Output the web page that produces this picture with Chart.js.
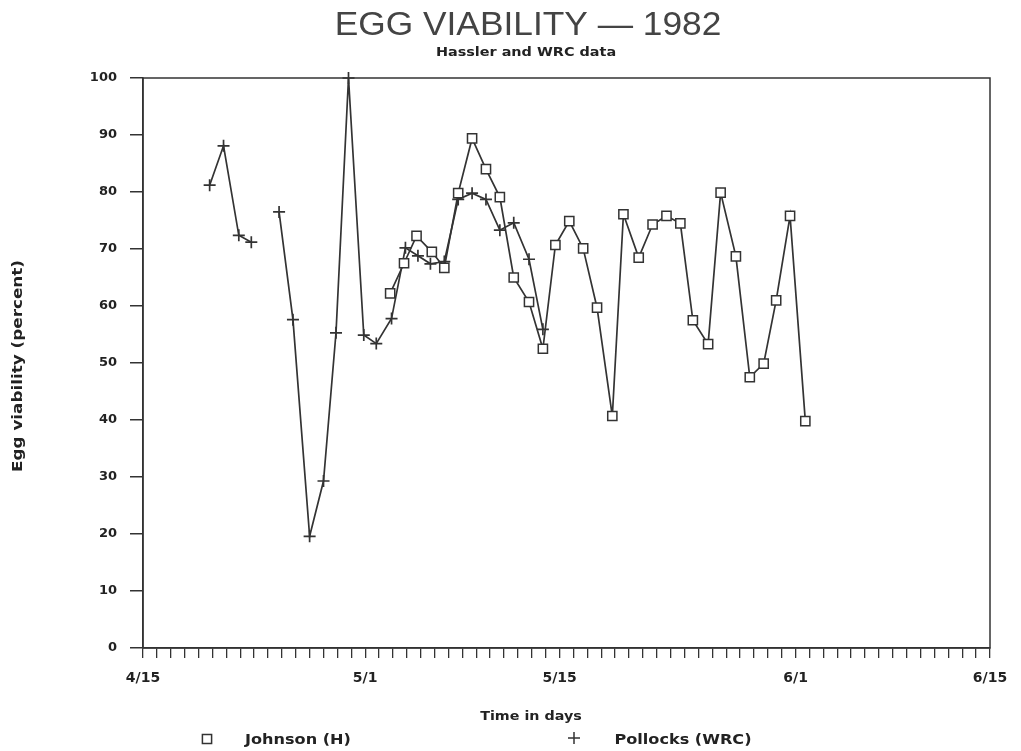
<!DOCTYPE html>
<html>
<head>
<meta charset="utf-8">
<script src="https://cdn.jsdelivr.net/npm/chart.js@4.4.0/dist/chart.umd.min.js"></script>
<style>
  html, body { margin: 0; padding: 0; background: #fff; }
  canvas { display: block; }
</style>
</head>
<body>
<canvas id="chart" width="1021" height="751"></canvas>
<script>
// x = days after 4/15
const johnsonDays = [17.8, 18.8, 19.7, 20.8, 21.7, 22.7, 23.7, 24.7, 25.7, 26.7, 27.8, 28.8,
    29.7, 30.7, 31.7, 32.7, 33.8, 34.6, 35.7, 36.7, 37.7, 38.7,
    39.6, 40.7, 41.6, 42.7, 43.7, 44.7, 45.6, 46.6, 47.7];
const johnsonValues = [62.2, 67.5, 72.3, 69.5, 66.7, 79.8, 89.4, 84.0, 79.1, 65.0, 60.7, 52.5,
    70.7, 74.9, 70.1, 59.7, 40.7, 76.1, 68.5, 74.3, 75.8, 74.5,
    57.5, 53.3, 79.9, 68.7, 47.5, 49.9, 61.0, 75.8, 39.8];

const pollockDays = [4.8, 5.8, 6.9, 7.8, 9.8, 10.8, 12.0, 13.0, 13.9, 14.8, 15.9, 16.8,
    17.9, 18.9, 19.8, 20.7, 21.7, 22.7, 23.7, 24.7, 25.7, 26.7, 27.8, 28.8];
const pollockValues = [81.2, 88.1, 72.4, 71.2, 76.5, 57.6, 19.6, 29.3, 55.3, 100, 54.9, 53.4,
    57.8, 70.2, 68.8, 67.4, 67.8, 78.7, 79.8, 78.7, 73.3, 74.6, 68.2, 55.9];

const xLabelDays = [0, 16, 30, 47, 61];
const xLabels = ['4/15', '5/1', '5/15', '6/1', '6/15'];

const ink = '#333';
const textInk = '#222';
const labelFont = 'DejaVu Sans';

function toPoints(xs, ys) {
    return xs.map((x, i) => ({x: x, y: ys[i]}));
}

// no line across a missing day
function gapColor(ctx) {
    return ctx.p1.parsed.x - ctx.p0.parsed.x > 1.5 ? 'rgba(0,0,0,0)' : ink;
}

function stretchText(ctx, text, x, y, font, sx, angle) {
    ctx.save();
    ctx.translate(x, y);
    if (angle) ctx.rotate(angle);
    ctx.scale(sx, 1);
    ctx.font = font;
    ctx.textAlign = 'center';
    ctx.textBaseline = 'middle';
    ctx.fillText(text, 0, 0);
    ctx.restore();
}

// frame, titles and legend drawn around the chart area
const decorPlugin = {
    id: 'decor',
    afterDraw(chart) {
        const {ctx, chartArea: a} = chart;
        ctx.save();
        ctx.strokeStyle = ink;
        ctx.lineWidth = 1.5;
        ctx.strokeRect(a.left, a.top, a.right - a.left, a.bottom - a.top);

        ctx.fillStyle = '#444';
        stretchText(ctx, 'EGG VIABILITY \u2014 1982', 528, 26, '33px "Liberation Sans"', 1.07);
        ctx.fillStyle = textInk;
        stretchText(ctx, 'Hassler and WRC data', 526, 53, 'bold 12px ' + labelFont, 1.2);
        stretchText(ctx, 'Time in days', 531, 717, 'bold 13px ' + labelFont, 1.1);
        stretchText(ctx, 'Egg viability (percent)', 18, 366, 'bold 14px ' + labelFont, 1.2, -Math.PI / 2);

        // legend
        ctx.lineWidth = 1.5;
        ctx.strokeStyle = ink;
        ctx.fillStyle = '#fff';
        Chart.helpers.drawPoint(ctx, {pointStyle: 'rect', radius: 6.5, borderWidth: 1.5}, 207, 739);
        Chart.helpers.drawPoint(ctx, {pointStyle: 'cross', radius: 6, borderWidth: 1.5}, 574, 738);
        ctx.fillStyle = textInk;
        stretchText(ctx, 'Johnson (H)', 298, 740, 'bold 14px ' + labelFont, 1.15);
        stretchText(ctx, 'Pollocks (WRC)', 683, 740, 'bold 14px ' + labelFont, 1.15);
        ctx.restore();
    }
};

const config = {
    type: 'line',
    data: {
        datasets: [{
            label: 'Johnson (H)',
            data: toPoints(johnsonDays, johnsonValues),
            borderColor: ink,
            borderWidth: 1.7,
            pointStyle: 'rect',
            pointRadius: 6.5,
            pointBorderWidth: 1.5,
            pointBackgroundColor: '#fff',
            pointBorderColor: ink,
            tension: 0,
            clip: false,
            segment: {borderColor: gapColor}
        }, {
            label: 'Pollocks (WRC)',
            data: toPoints(pollockDays, pollockValues),
            borderColor: ink,
            borderWidth: 1.7,
            pointStyle: 'cross',
            pointRadius: 6,
            pointBorderWidth: 1.7,
            pointBorderColor: ink,
            tension: 0,
            clip: false,
            segment: {borderColor: gapColor}
        }]
    },
    plugins: [decorPlugin],
    options: {
        responsive: false,
        animation: false,
        layout: {padding: {left: 0, right: 31, top: 78, bottom: 0}},
        plugins: {
            legend: {display: false},
            tooltip: {enabled: false},
            title: {display: false}
        },
        scales: {
            x: {
                type: 'linear',
                min: 0,
                max: 61,
                afterBuildTicks(scale) {
                    const ticks = [];
                    for (let d = 0; d <= 61; d++) ticks.push({value: d});
                    scale.ticks = ticks;
                },
                afterFit(scale) {
                    scale.height = 103;
                },
                ticks: {
                    autoSkip: false,
                    maxRotation: 0,
                    padding: 12,
                    color: textInk,
                    font: {family: labelFont, size: 14, weight: 'bold'},
                    callback(value) {
                        const i = xLabelDays.indexOf(value);
                        return i >= 0 ? xLabels[i] : '';
                    }
                },
                grid: {drawOnChartArea: false, tickLength: 10, color: ink, lineWidth: 1.3},
                border: {color: ink, width: 1.5}
            },
            y: {
                min: 0,
                max: 100,
                afterFit(scale) {
                    scale.width = 143;
                },
                ticks: {
                    stepSize: 10,
                    padding: 13,
                    color: textInk,
                    font: {family: labelFont, size: 13, weight: 'bold'}
                },
                grid: {drawOnChartArea: false, tickLength: 13, color: ink, lineWidth: 1.5},
                border: {color: ink, width: 1.5}
            }
        }
    }
};

new Chart(document.getElementById('chart').getContext('2d'), config);
</script>
</body>
</html>
